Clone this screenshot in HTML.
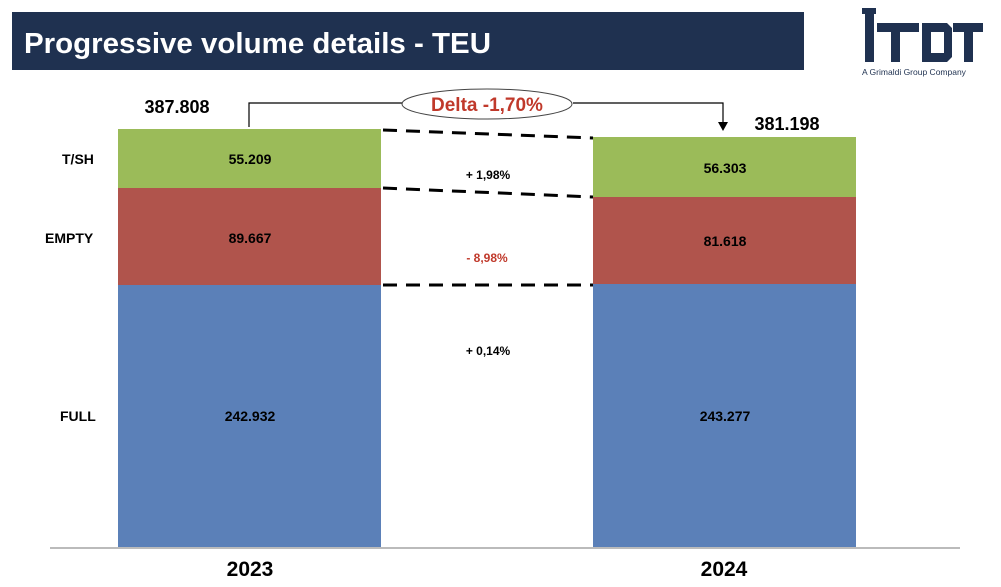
<!DOCTYPE html>
<html><head><style>
body{margin:0;width:1001px;height:582px;background:#fff;overflow:hidden;font-family:"Liberation Sans",Arial,sans-serif;}
</style></head><body>
<svg width="1001" height="582" xmlns="http://www.w3.org/2000/svg" font-family="Liberation Sans, Arial, sans-serif">
<rect x="12" y="12" width="792" height="58" fill="#1f3150"/>
<text x="24" y="53" fill="#fff" font-size="29" font-weight="bold" textLength="467" lengthAdjust="spacingAndGlyphs">Progressive volume details - TEU</text>
<g fill="#1f3150">
<rect x="865" y="14" width="9" height="48"/>
<rect x="862" y="8" width="14" height="6"/>
<rect x="877" y="23" width="42" height="9"/>
<rect x="891" y="32" width="9" height="30"/>
<path d="M922 23 h25 l5 5 v29 l-5 5 h-25z M931 32 v21 h13 v-21z" fill-rule="evenodd"/>
<rect x="953" y="23" width="30" height="9"/>
<rect x="964" y="32" width="9" height="30"/>
</g>
<text x="862" y="75" font-size="8.5" fill="#1f3150">A Grimaldi Group Company</text>
<rect x="118" y="129" width="263" height="59" fill="#9bbb59"/>
<rect x="118" y="188" width="263" height="97" fill="#b0544c"/>
<rect x="118" y="285" width="263" height="262" fill="#5b80b8"/>
<rect x="593" y="137" width="263" height="60" fill="#9bbb59"/>
<rect x="593" y="197" width="263" height="87" fill="#b0544c"/>
<rect x="593" y="284" width="263" height="263" fill="#5b80b8"/>
<line x1="50" y1="548" x2="960" y2="548" stroke="#777" stroke-width="1"/>
<g stroke="#000" stroke-width="3" stroke-dasharray="14,9">
<line x1="383" y1="130" x2="593" y2="138"/>
<line x1="383" y1="188" x2="593" y2="197"/>
<line x1="383" y1="285" x2="593" y2="285"/>
</g>
<g font-size="14" font-weight="bold" text-anchor="middle" fill="#000">
<text x="250" y="164">55.209</text>
<text x="250" y="243">89.667</text>
<text x="250" y="421">242.932</text>
<text x="725" y="173">56.303</text>
<text x="725" y="246">81.618</text>
<text x="725" y="421">243.277</text>
</g>
<g font-size="14" font-weight="bold" fill="#000">
<text x="62" y="164">T/SH</text>
<text x="45" y="243">EMPTY</text>
<text x="60" y="421">FULL</text>
</g>
<g font-size="12" font-weight="bold" text-anchor="middle">
<text x="488" y="179">+ 1,98%</text>
<text x="487" y="262" fill="#c0392b">- 8,98%</text>
<text x="488" y="355">+ 0,14%</text>
</g>
<text x="177" y="113" font-size="18" font-weight="bold" text-anchor="middle">387.808</text>
<text x="787" y="130" font-size="18" font-weight="bold" text-anchor="middle">381.198</text>
<polyline points="249,127 249,103 402,103" fill="none" stroke="#000" stroke-width="1.2"/>
<polyline points="573,103 723,103 723,125" fill="none" stroke="#000" stroke-width="1.2"/>
<path d="M718,122 L728,122 L723,131 Z" fill="#000"/>
<ellipse cx="487" cy="104" rx="85" ry="15" fill="#fff" stroke="#444" stroke-width="1"/>
<text x="487" y="111" font-size="19" font-weight="bold" text-anchor="middle" fill="#c0392b">Delta -1,70%</text>
<text x="250" y="576" font-size="21" font-weight="bold" text-anchor="middle">2023</text>
<text x="724" y="576" font-size="21" font-weight="bold" text-anchor="middle">2024</text>
</svg>
</body></html>
